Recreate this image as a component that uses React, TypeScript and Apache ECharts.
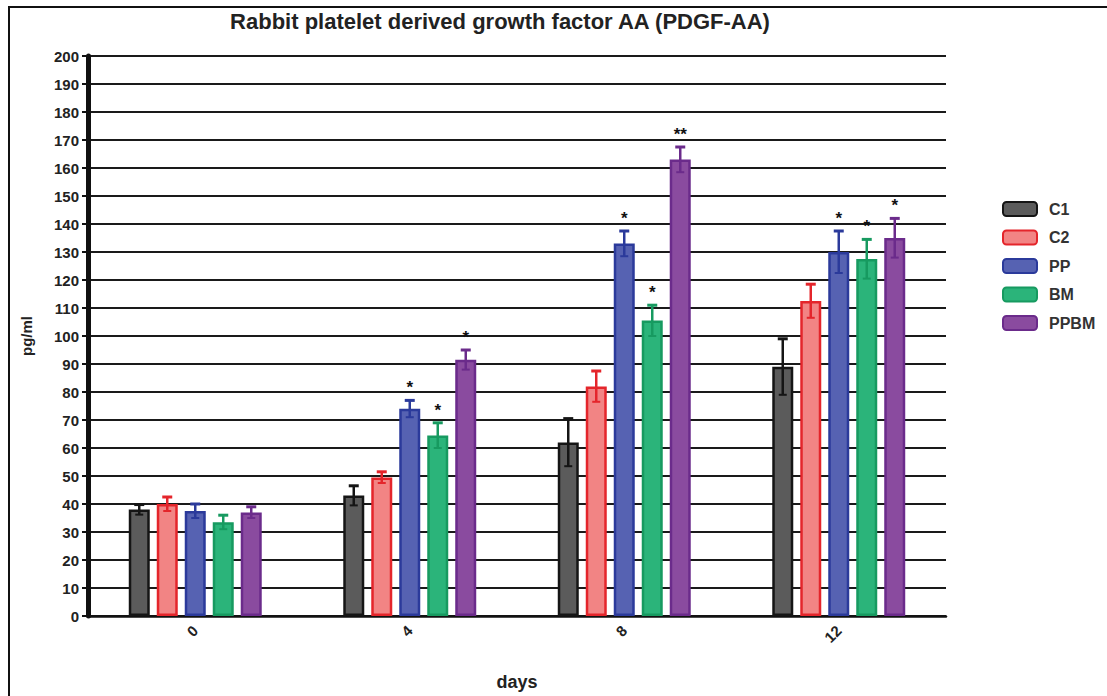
import React, { useEffect, useRef } from "react";
import * as echarts from "echarts";

const categories = ["0", "4", "8", "12"];
const seriesNames = ["C1", "C2", "PP", "BM", "PPBM"];
const c1Values = [38, 43, 62, 89];
const c2Values = [40, 49.5, 82, 112.5];
const ppValues = [37.5, 74, 133, 130];
const bmValues = [33.5, 64.5, 105.5, 127.5];
const ppbmValues = [37, 91.5, 163, 135];
const c1Errors = [1.8, 3.5, 8.5, 10];
const c2Errors = [2.5, 2, 5.5, 6];
const ppErrors = [2.5, 3, 4.5, 7.5];
const bmErrors = [2.5, 4.5, 5.5, 7];
const ppbmErrors = [2, 3.5, 4.5, 7];
const c1Stars = ["", "", "", ""];
const c2Stars = ["", "", "", ""];
const ppStars = ["", "*", "*", "*"];
const bmStars = ["", "*", "*", "*"];
const ppbmStars = ["", "*", "**", "*"];
const yTicks = { min: 0, max: 200, interval: 10 };

const fills = ["#5b5b5b", "#f28484", "#5662b2", "#2bb47a", "#8a4b9f"];
const borders = ["#151515", "#e4252b", "#2b3a9b", "#179a60", "#6b2b8b"];

export default function App() {
  const ref = useRef<HTMLDivElement>(null);
  useEffect(() => {
    if (!ref.current) return;
    const chart = echarts.init(ref.current, null, { renderer: "svg" });
    const values = [c1Values, c2Values, ppValues, bmValues, ppbmValues];
    const errors = [c1Errors, c2Errors, ppErrors, bmErrors, ppbmErrors];
    const stars = [c1Stars, c2Stars, ppStars, bmStars, ppbmStars];
    const barW = 21;
    const step = 28;

    const barSeries = seriesNames.map((name, i) => ({
      name,
      type: "bar",
      data: values[i],
      barWidth: barW,
      barGap: "33.3%",
      barCategoryGap: "38%",
      itemStyle: { color: fills[i], borderColor: borders[i], borderWidth: 2.5 },
      z: 3,
    }));

    const errSeries = seriesNames.map((name, i) => ({
      type: "custom",
      name: name + "-err",
      data: values[i].map((v, k) => [k, v, errors[i][k]]),
      z: 5,
      silent: true,
      renderItem: (params: any, api: any) => {
        const k = api.value(0);
        const v = api.value(1);
        const e = api.value(2);
        const star = stars[i][k];
        const off = (i - 2) * step;
        const top = api.coord([k, v + e]);
        const bot = api.coord([k, v - e]);
        const x = top[0] + off;
        const col = borders[i];
        const children: any[] = [
          { type: "line", shape: { x1: x, y1: top[1], x2: x, y2: bot[1] }, style: { stroke: col, lineWidth: 2.5 } },
          { type: "line", shape: { x1: x - 5, y1: top[1], x2: x + 5, y2: top[1] }, style: { stroke: col, lineWidth: 3 } },
          { type: "line", shape: { x1: x - 4, y1: bot[1], x2: x + 4, y2: bot[1] }, style: { stroke: col, lineWidth: 2 } },
        ];
        if (star) {
          children.push({
            type: "text",
            style: {
              text: star,
              x: x,
              y: top[1] - 4,
              align: "center",
              verticalAlign: "bottom",
              fill: "#111",
              font: "bold 17px 'Liberation Sans', Arial, sans-serif",
            },
          });
        }
        return { type: "group", children };
      },
    }));

    chart.setOption({
      animation: false,
      backgroundColor: "#ffffff",
      textStyle: { fontFamily: "'Liberation Sans', Arial, sans-serif" },
      graphic: [
        { type: "line", shape: { x1: 8, y1: 7, x2: 1107, y2: 7 }, style: { stroke: "#111", lineWidth: 2 } },
        { type: "line", shape: { x1: 9, y1: 7, x2: 9, y2: 696 }, style: { stroke: "#111", lineWidth: 2 } },
        {
          type: "text",
          x: 500,
          y: 21,
          style: {
            text: "Rabbit platelet derived growth factor AA (PDGF-AA)",
            align: "center",
            verticalAlign: "middle",
            fill: "#222",
            font: "bold 22px 'Liberation Sans', Arial, sans-serif",
          },
        },
      ],
      grid: { left: 88, right: 161, top: 56, bottom: 75 },
      legend: {
        data: seriesNames,
        orient: "vertical",
        left: 997,
        top: 196,
        itemWidth: 34,
        itemHeight: 14,
        itemGap: 12.5,
        icon: "roundRect",
        textStyle: {
          fontSize: 16,
          color: "#333",
          fontWeight: "bold",
          padding: [0, 0, 0, 7],
          fontFamily: "'Liberation Sans', Arial, sans-serif",
        },
      },
      xAxis: {
        type: "category",
        data: categories,
        name: "days",
        nameLocation: "middle",
        nameGap: 57,
        nameTextStyle: { fontSize: 18, fontWeight: "bold", color: "#222" },
        axisLine: { lineStyle: { color: "#111", width: 2.5 } },
        axisTick: { alignWithLabel: true, length: 6, lineStyle: { color: "#111", width: 2 } },
        axisLabel: { rotate: 45, fontSize: 15, fontWeight: "bold", color: "#222", margin: 12 },
      },
      yAxis: {
        type: "value",
        min: yTicks.min,
        max: yTicks.max,
        interval: yTicks.interval,
        name: "pg/ml",
        nameLocation: "middle",
        nameGap: 54,
        nameTextStyle: { fontSize: 15, fontWeight: "bold", color: "#222" },
        axisLine: { show: true, lineStyle: { color: "#111", width: 5 } },
        axisTick: { show: true, length: 6, lineStyle: { color: "#111", width: 2 } },
        axisLabel: { fontSize: 15, fontWeight: "bold", color: "#222", margin: 9 },
        splitLine: { show: true, lineStyle: { color: "#1a1a1a", width: 2 } },
      },
      series: [...barSeries, ...errSeries],
    });
    return () => chart.dispose();
  }, []);
  return (
    <div
      ref={ref}
      style={{ position: "fixed", left: 0, top: 0, width: 1107, height: 696, background: "#fff" }}
    />
  );
}
